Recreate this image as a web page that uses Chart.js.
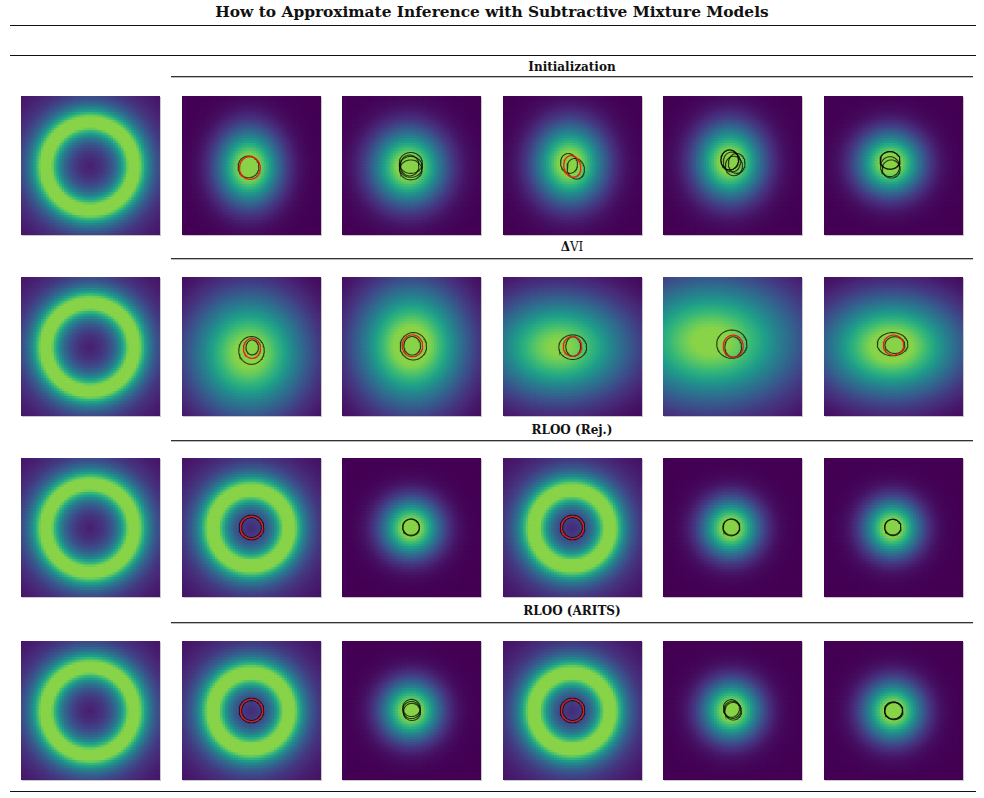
<!DOCTYPE html>
<html>
<head>
<meta charset="utf-8">
<script src="https://cdn.jsdelivr.net/npm/chart.js@4.4.1/dist/chart.umd.min.js"></script>
<style>
body { margin: 0; width: 984px; height: 798px; background: #fff; position: relative; overflow: hidden; font-family: "DejaVu Serif", serif; color: #111; }
.rule { position: absolute; height: 0; border-top: 1px solid #111; }
.hrule { position: absolute; left: 171px; width: 802px; height: 0; border-top: 1px solid #333; border-bottom: 1px solid #bbb; }
.title { position: absolute; left: 0; width: 984px; top: 3px; text-align: center; font-weight: bold; font-size: 15.4px; }
.head { position: absolute; left: 171px; width: 802px; text-align: center; font-weight: bold; font-size: 12px; }
.panel { position: absolute; width: 139px; height: 139px; background: #440154; box-shadow: 1px 1px 0 #c8c8c8; }
</style>
</head>
<body>
<div class="title">How to Approximate Inference with Subtractive Mixture Models</div>
<div class="rule" style="left:10px;width:966px;top:25px"></div>
<div class="rule" style="left:10px;width:966px;top:55px"></div>
<div class="rule" style="left:10px;width:966px;top:791px"></div>
<div id="grid"></div>

<script>
// Subtractive mixture approximations of a ring target
const rowTitles = ['Initialization', '<b>Δ</b>VI', 'RLOO (Rej.)', 'RLOO (ARITS)'];

// density: [kind, cx, cy, a, b, peak]  kind 'r' = ring (a radius, b width), 'g' = blob (a, b spreads)
const targetDensity = ['r', 0, 0, 1.9, 0.6, 1.15];

const initDensity = [
    ['g', -0.09, -0.04, 0.92, 1.10, 1.12],
    ['g', -0.12, -0.04, 1.06, 1.09, 1.11],
    ['g', -0.10, 0.10, 1.02, 1.14, 1.11],
    ['g', -0.10, 0.17, 0.98, 1.08, 1.11],
    ['g', -0.12, 0.12, 0.95, 0.91, 1.11]
];
const dviDensity = [
    ['g', -0.10, -0.28, 1.70, 1.75, 1.06],
    ['g', 0.02, 0.06, 1.58, 1.75, 1.12],
    ['g', -0.55, 0.00, 2.05, 1.50, 1.02],
    ['g', -0.90, 0.25, 2.50, 1.80, 1.05],
    ['g', -0.06, 0.02, 2.00, 1.45, 1.10]
];
const rejDensity = [
    ['r', 0, 0, 1.64, 0.62, 1.15],
    ['g', 0.00, 0.00, 0.86, 0.84, 1.11],
    ['r', 0, 0, 1.64, 0.62, 1.15],
    ['g', -0.06, 0.00, 0.84, 0.84, 1.11],
    ['g', -0.03, 0.00, 0.82, 0.82, 1.11]
];
const aritsDensity = [
    ['r', 0, 0, 1.64, 0.62, 1.15],
    ['g', 0.00, 0.02, 0.86, 0.86, 1.11],
    ['r', 0, 0, 1.64, 0.62, 1.15],
    ['g', -0.03, 0.02, 0.86, 0.86, 1.11],
    ['g', 0.00, 0.00, 0.86, 0.86, 1.11]
];

// component contours: [cx, cy, rx, ry, angle(deg), 'k' | 'r']
const initEllipses = [
    [[-0.13, -0.06, 0.45, 0.47, 0, 'k'], [-0.07, -0.11, 0.45, 0.49, 0, 'r']],
    [[-0.03, 0.11, 0.50, 0.45, 0, 'k'], [-0.03, -0.06, 0.50, 0.45, 0, 'k'], [-0.03, -0.19, 0.48, 0.43, 0, 'k'], [-0.08, 0.00, 0.40, 0.45, 0, 'k']],
    [[-0.15, 0.09, 0.36, 0.43, 15, 'k'], [0.14, -0.14, 0.37, 0.45, 15, 'k'], [-0.01, -0.04, 0.36, 0.47, 15, 'r']],
    [[-0.12, 0.24, 0.38, 0.43, 0, 'k'], [-0.12, 0.24, 0.38, 0.43, 0, 'k'], [-0.03, 0.15, 0.37, 0.43, 0, 'k'], [0.18, 0.09, 0.36, 0.43, 0, 'k'], [0.06, -0.02, 0.37, 0.42, 0, 'k']],
    [[-0.15, 0.22, 0.43, 0.38, 0, 'k'], [-0.15, 0.22, 0.43, 0.38, 0, 'k'], [-0.15, -0.05, 0.41, 0.43, 0, 'k'], [-0.10, -0.15, 0.39, 0.39, 0, 'k']]
];
const dviEllipses = [
    [[0.00, -0.17, 0.55, 0.60, 0, 'k'], [0.03, -0.04, 0.27, 0.32, 0, 'k'], [0.02, -0.08, 0.37, 0.43, 0, 'r']],
    [[0.08, 0.01, 0.57, 0.59, 0, 'k'], [0.03, 0.03, 0.36, 0.40, 0, 'k'], [0.04, 0.03, 0.44, 0.47, 0, 'r']],
    [[0.01, -0.03, 0.60, 0.53, 0, 'k'], [0.03, 0.00, 0.32, 0.42, 0, 'k'], [0.00, 0.00, 0.40, 0.43, 0, 'r']],
    [[-0.03, 0.10, 0.65, 0.61, 0, 'k'], [0.03, -0.02, 0.36, 0.44, 0, 'k'], [0.03, 0.01, 0.43, 0.48, 0, 'r']],
    [[-0.04, 0.10, 0.66, 0.50, 0, 'k'], [0.06, 0.06, 0.43, 0.36, 0, 'k'], [0.00, 0.06, 0.44, 0.43, 0, 'r']]
];
const rejEllipses = [
    [[0, 0, 0.53, 0.53, 0, 'k'], [0, 0, 0.43, 0.43, 0, 'k'], [0, 0, 0.48, 0.48, 0, 'r']],
    [[-0.02, 0.00, 0.36, 0.36, 0, 'k'], [-0.02, 0.02, 0.36, 0.35, 0, 'k']],
    [[0, 0, 0.53, 0.53, 0, 'k'], [0, 0, 0.43, 0.43, 0, 'k'], [0, 0, 0.48, 0.48, 0, 'r']],
    [[-0.06, 0.00, 0.36, 0.36, 0, 'k'], [-0.04, 0.02, 0.36, 0.35, 0, 'k']],
    [[-0.03, 0.00, 0.35, 0.35, 0, 'k'], [-0.03, 0.02, 0.35, 0.34, 0, 'k']]
];
const aritsEllipses = [
    [[0, 0, 0.53, 0.53, 0, 'k'], [0, 0, 0.43, 0.43, 0, 'k'], [0, 0, 0.48, 0.48, 0, 'r']],
    [[0.00, 0.11, 0.38, 0.37, 0, 'k'], [0.00, 0.02, 0.38, 0.37, 0, 'k'], [0.02, -0.06, 0.37, 0.37, 0, 'k']],
    [[0, 0, 0.53, 0.53, 0, 'k'], [0, 0, 0.43, 0.43, 0, 'k'], [0, 0, 0.48, 0.48, 0, 'r']],
    [[-0.05, 0.09, 0.35, 0.38, 0, 'k'], [0.03, -0.03, 0.36, 0.38, 0, 'k'], [0.00, 0.03, 0.36, 0.37, 0, 'k']],
    [[0.00, 0.00, 0.39, 0.37, 0, 'k'], [0.00, 0.00, 0.39, 0.37, 0, 'k'], [0.02, -0.03, 0.39, 0.37, 0, 'k']]
];

const rowDensity = [initDensity, dviDensity, rejDensity, aritsDensity];
const rowEllipses = [initEllipses, dviEllipses, rejEllipses, aritsEllipses];

const viridis = ['#440154', '#482878', '#3e4a89', '#31688e', '#26828e', '#1f9e89', '#35b779', '#6dcd59', '#b4de2c', '#fde725'];
const TOP = 0.82;   // colour at the clipped maximum
const EXTENT = 3;
const CELLS = 54;
const SIZE = 139;
const panelX = [21, 182, 342, 503, 663, 824];
const panelY = [96, 277, 458, 641];
const headY = [60, 240, 423, 604];
const ruleY = [76, 258, 440, 622];
const lineColor = { k: 'rgba(0,0,0,0.72)', r: 'rgba(235,25,20,0.95)' };

function hexRgb(h) { return [1, 3, 5].map(i => parseInt(h.substr(i, 2), 16)); }
const viridisRgb = viridis.map(hexRgb);

function colormap(v) {
    const t = Math.max(0, Math.min(1, v)) * TOP * (viridisRgb.length - 1);
    const i = Math.min(Math.floor(t), viridisRgb.length - 2);
    const f = t - i;
    const a = viridisRgb[i], b = viridisRgb[i + 1];
    return `rgb(${a.map((c, k) => Math.round(c + (b[k] - c) * f)).join(',')})`;
}

function density(d, x, y) {
    const [kind, cx, cy, a, b, peak] = d;
    if (kind === 'r') {
        const u = (Math.hypot(x - cx, y - cy) - a) / b;
        return peak / (1 + u * u);
    }
    const dx = (x - cx) / a, dy = (y - cy) / b;
    return peak * Math.exp(-0.5 * (dx * dx + dy * dy));
}

function heatDataset(d) {
    const pts = [], colors = [];
    const step = 2 * EXTENT / CELLS;
    for (let j = 0; j < CELLS; j++) {
        for (let i = 0; i < CELLS; i++) {
            const x = -EXTENT + (i + 0.5) * step;
            const y = -EXTENT + (j + 0.5) * step;
            pts.push({ x, y });
            colors.push(colormap(density(d, x, y)));
        }
    }
    const cellPx = SIZE / CELLS;
    return {
        data: pts, backgroundColor: colors, pointStyle: 'rect',
        pointRadius: (cellPx + 1.2) / Math.SQRT2, pointBorderWidth: 0, borderWidth: 0, order: 100
    };
}

function ellipseDataset(e, order) {
    const [cx, cy, rx, ry, ang, col] = e;
    const th = ang * Math.PI / 180;
    const pts = [];
    for (let k = 0; k <= 72; k++) {
        const t = k / 72 * 2 * Math.PI;
        const ex = rx * Math.cos(t), ey = ry * Math.sin(t);
        pts.push({ x: cx + ex * Math.cos(th) - ey * Math.sin(th), y: cy + ex * Math.sin(th) + ey * Math.cos(th) });
    }
    return {
        data: pts, showLine: true, pointRadius: 0, borderColor: lineColor[col],
        borderWidth: col === 'r' ? 1.3 : 1.1, tension: 0, fill: false, order: order
    };
}

function makePanel(left, top, d, ells) {
    const canvas = document.createElement('canvas');
    canvas.width = SIZE; canvas.height = SIZE;
    canvas.className = 'panel';
    canvas.style.left = left + 'px';
    canvas.style.top = top + 'px';
    document.getElementById('grid').appendChild(canvas);
    const datasets = [heatDataset(d)];
    ells.forEach((e, k) => datasets.push(ellipseDataset(e, ells.length - k)));
    new Chart(canvas.getContext('2d'), {
        type: 'scatter',
        data: { datasets },
        options: {
            responsive: false, animation: false, events: [], devicePixelRatio: 1,
            layout: { padding: 0, autoPadding: false },
            plugins: { legend: { display: false }, tooltip: { enabled: false } },
            scales: {
                x: { type: 'linear', min: -EXTENT, max: EXTENT, display: false },
                y: { type: 'linear', min: -EXTENT, max: EXTENT, display: false }
            }
        }
    });
}

document.addEventListener('DOMContentLoaded', function() {
    const grid = document.getElementById('grid');
    rowTitles.forEach((title, r) => {
        const head = document.createElement('div');
        head.className = 'head';
        head.style.top = headY[r] + 'px';
        head.innerHTML = title;
        if (r === 1) head.style.fontWeight = 'normal';
        grid.appendChild(head);
        const rule = document.createElement('div');
        rule.className = 'hrule';
        rule.style.top = ruleY[r] + 'px';
        grid.appendChild(rule);

        makePanel(panelX[0], panelY[r], targetDensity, []);
        rowDensity[r].forEach((d, c) => makePanel(panelX[c + 1], panelY[r], d, rowEllipses[r][c]));
    });
});
</script>
</body>
</html>
